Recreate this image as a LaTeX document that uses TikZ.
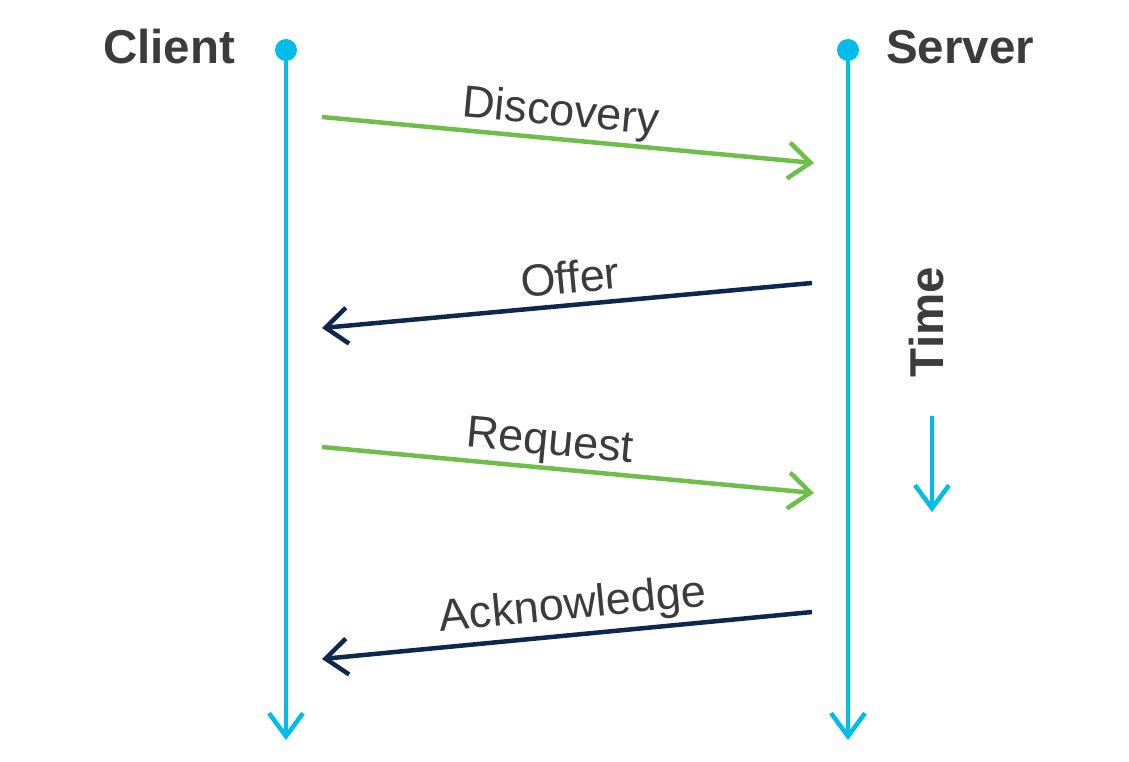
\documentclass[tikz,border=0pt]{standalone}
\usepackage{fontspec}
\setmainfont{Liberation Sans}
\usetikzlibrary{arrows.meta}
\definecolor{lifeblue}{HTML}{00BCEB}
\definecolor{msggreen}{HTML}{6EBE4A}
\definecolor{msgnavy}{HTML}{0D274D}
\definecolor{txtgrey}{HTML}{3C3C3C}
\tikzset{
  lifeline/.style={draw=lifeblue, line width=4.5pt, -{Straight Barb[length=23pt,width=34pt,line width=4.5pt]}},
  greenmsg/.style={draw=msggreen, line width=4.5pt, -{Straight Barb[length=22pt,width=36pt,line width=4.5pt]}},
  navymsg/.style={draw=msgnavy, line width=4.5pt, -{Straight Barb[length=22pt,width=36pt,line width=4.5pt]}},
  actor/.style={text=txtgrey, font=\fontsize{47.5}{52}\selectfont\bfseries, inner sep=0pt},
  msglabel/.style={text=txtgrey, font=\fontsize{45}{49}\selectfont, inner sep=0pt},
  dotstyle/.style={circle, fill=lifeblue, minimum size=22pt, inner sep=0pt}
}
\begin{document}
\begin{tikzpicture}[x=1pt,y=-1pt]
\useasboundingbox (0,0) rectangle (1129,762);
% actors
\node[actor, anchor=base west] (client) at (103,64) {Client};
\node[actor, anchor=base west] (server) at (886,64) {Server};
% lifelines
\node[dotstyle] (cdot) at (286,50) {};
\node[dotstyle] (sdot) at (848,50) {};
\coordinate (cend) at (286,740);
\coordinate (send) at (848,740);
\draw[lifeline] (cdot.center) -- (cend);
\draw[lifeline] (sdot.center) -- (send);
% message endpoints
\coordinate (d1) at (322,117);
\coordinate (d2) at (814,163);
\coordinate (o1) at (812,283);
\coordinate (o2) at (322,328);
\coordinate (r1) at (322,447);
\coordinate (r2) at (814,493);
\coordinate (a1) at (812,612);
\coordinate (a2) at (322,659);
\draw[greenmsg] (d1) -- (d2);
\draw[navymsg] (o1) -- (o2);
\draw[greenmsg] (r1) -- (r2);
\draw[navymsg] (a1) -- (a2);
% labels
\node[msglabel, rotate=-5.4] (ldisc) at (561,114) {Discovery};
\node[msglabel, rotate=5.3] (loffer) at (570,277) {Offer};
\node[msglabel, rotate=-5.4] (lreq) at (550,444) {Request};
\node[msglabel, rotate=5.5] (lack) at (573,607) {Acknowledge};
% time
\node[actor, rotate=90, anchor=base] (time) at (943,322) {Time};
\coordinate (t1) at (932,416);
\coordinate (t2) at (932,512);
\draw[lifeline] (t1) -- (t2);
\end{tikzpicture}
\end{document}
